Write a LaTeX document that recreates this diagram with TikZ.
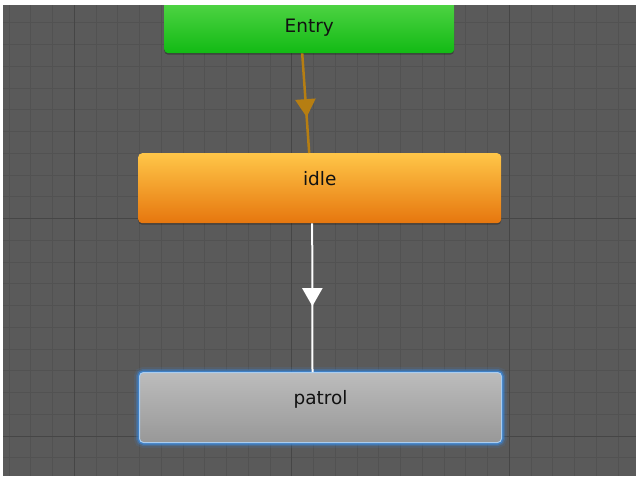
\documentclass[tikz,border=0pt]{standalone}
\usepackage{fontspec}
\setmainfont{DejaVu Sans}
\usetikzlibrary{arrows.meta,decorations.markings,shadows}
\definecolor{bg}{RGB}{90,90,90}
\definecolor{gridminor}{RGB}{82,82,82}
\definecolor{gridmajor}{RGB}{70,70,70}
\definecolor{txt}{RGB}{18,18,18}
\definecolor{greentop}{RGB}{94,218,80}
\definecolor{greenbot}{RGB}{18,186,20}
\definecolor{orangetop}{RGB}{255,198,72}
\definecolor{orangemid}{RGB}{248,166,36}
\definecolor{orangebot}{RGB}{230,118,14}
\definecolor{graytop}{RGB}{188,188,188}
\definecolor{graybot}{RGB}{152,152,152}
\definecolor{glow}{RGB}{58,138,222}
\definecolor{glowlight}{RGB}{170,205,240}
\definecolor{entryline}{RGB}{182,126,18}
\begin{document}
\begin{tikzpicture}[x=1pt,y=-1pt,
  statebox/.style={rectangle, rounded corners=4pt, inner sep=0pt, text height=32pt, text depth=38pt,
    font=\fontsize{18.5}{20}\selectfont, text=txt, anchor=north west},
  softshadow/.style={drop shadow={shadow xshift=0pt, shadow yshift=-1.5pt, opacity=.3, fill=black}},
  minorline/.style={draw=gridminor, line width=0.7pt},
  majorline/.style={draw=gridmajor, line width=0.9pt},
  midarrow/.style={postaction={decorate}, decoration={markings, mark=at position #1 with {\arrow{Triangle[width=20pt,length=18pt]}}}},
]
\useasboundingbox (0,0) rectangle (636,476);
\fill[bg] (0,0) rectangle (636,476);
\foreach \i in {0,...,28} \draw[minorline] ({9+21.75*\i},0) -- ({9+21.75*\i},476);
\foreach \j in {0,...,21} \draw[minorline] (0,{1+21.75*\j}) -- (636,{1+21.75*\j});
\foreach \i in {0,1,2} \draw[majorline] ({74.25+217.5*\i},0) -- ({74.25+217.5*\i},476);
\foreach \j in {218.5,436} \draw[majorline] (0,\j) -- (636,\j);

\node[statebox, softshadow, minimum width=290pt, text height=42pt, text depth=21pt,
  top color=greentop, bottom color=greenbot] (entry) at (164,-10) {Entry};
\node[statebox, softshadow, minimum width=363pt,
  top color=orangetop, middle color=orangemid, bottom color=orangebot] (idle) at (138,153) {idle};
\node[statebox, minimum width=362pt,
  preaction={draw=glow, line width=11pt, opacity=.12},
  preaction={draw=glow, line width=7pt, opacity=.3},
  preaction={draw=glow, line width=4pt, opacity=.7},
  top color=graytop, bottom color=graybot, draw=glowlight, line width=1pt] (patrol) at (139,372) {patrol};

\draw[entryline, line width=2.5pt, midarrow=0.64] ([xshift=-7pt]entry.south) -- ([xshift=-10.5pt]idle.north);
\draw[white, line width=2pt, midarrow=0.557] ([xshift=-7.5pt]idle.south) -- ([xshift=-8pt]patrol.north);

\fill[white] (0,0) rectangle (636,5);
\fill[white] (0,0) rectangle (3,476);
\end{tikzpicture}
\end{document}
